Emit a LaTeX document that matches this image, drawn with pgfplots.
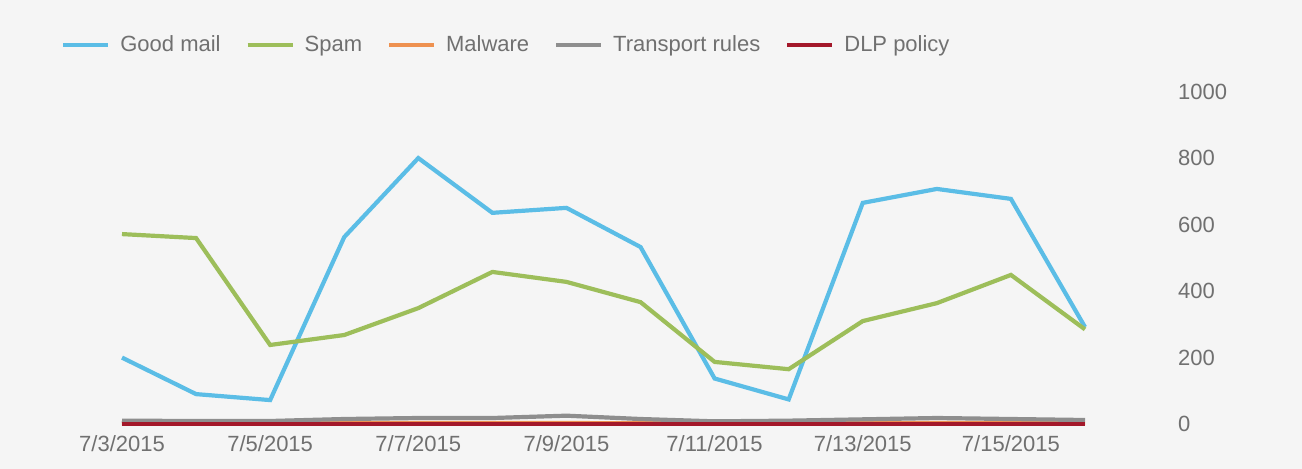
\documentclass[border=0pt]{standalone}
\usepackage{fontspec}
\setmainfont{Liberation Sans}
\usepackage{pgfplots}
\pgfplotsset{compat=1.18}
\definecolor{bg}{HTML}{F5F5F5}
\definecolor{txt}{HTML}{707070}
\definecolor{cgood}{HTML}{5BBDE6}
\definecolor{cspam}{HTML}{9DBE5A}
\definecolor{cmal}{HTML}{EE9150}
\definecolor{ctr}{HTML}{8E8E8E}
\definecolor{cdlp}{HTML}{A3182A}
\begin{document}
\begin{tikzpicture}
\fill[bg] (-61pt,-22.5pt) rectangle (590pt,212pt);
\begin{axis}[
  scale only axis,
  width=481.5pt, height=166pt,
  xmin=3, xmax=16, ymin=0, ymax=1000,
  clip=false,
  axis line style={draw=none},
  tick style={draw=none},
  major tick length=0pt,
  xtick={3,5,7,9,11,13,15},
  xticklabels={7/3/2015,7/5/2015,7/7/2015,7/9/2015,7/11/2015,7/13/2015,7/15/2015},
  ytick={0,200,400,600,800,1000},
  ytick pos=right,
  yticklabel pos=right,
  yticklabel style={anchor=west, xshift=43pt},
  xticklabel style={yshift=-2.5pt},
  ticklabel style={font=\fontsize{11}{13}\selectfont, text=txt},
  /pgf/number format/assume math mode=true,
  /pgf/number format/1000 sep={},
  legend columns=-1,
  legend style={draw=none, fill=none, font=\fontsize{11}{13}\selectfont, text=txt,
    at={(-0.0696,1.1416)}, anchor=west,
    /tikz/every odd column/.append style={column sep=3pt},
    /tikz/every even column/.append style={column sep=10.5pt}},
  legend image code/.code={\draw[#1, line width=2pt] (0pt,0pt) -- (22.5pt,0pt);},
  every axis plot/.append style={line width=2.1pt},
]
\addplot[cgood] coordinates {(3,200)(4,90)(5,72)(6,563)(7,801)(8,636)(9,651)(10,533)(11,137)(12,74)(13,666)(14,708)(15,678)(16,292)};
\addlegendentry{Good mail}
\addplot[cspam] coordinates {(3,572)(4,560)(5,238)(6,268)(7,349)(8,458)(9,428)(10,367)(11,187)(12,165)(13,310)(14,364)(15,449)(16,285)};
\addlegendentry{Spam}
\addplot[cmal] coordinates {(3,2)(4,2)(5,2)(6,3)(7,3)(8,3)(9,3)(10,2)(11,2)(12,2)(13,2)(14,3)(15,3)(16,2)};
\addlegendentry{Malware}
\addplot[ctr] coordinates {(3,10)(4,9)(5,9)(6,15)(7,18)(8,18)(9,25)(10,15)(11,8)(12,10)(13,14)(14,18)(15,15)(16,12)};
\addlegendentry{Transport rules}
\addplot[cdlp] coordinates {(3,0)(4,0)(5,0)(6,0)(7,0)(8,0)(9,0)(10,0)(11,0)(12,0)(13,0)(14,0)(15,0)(16,0)};
\addlegendentry{DLP policy}
\end{axis}
\end{tikzpicture}
\end{document}
